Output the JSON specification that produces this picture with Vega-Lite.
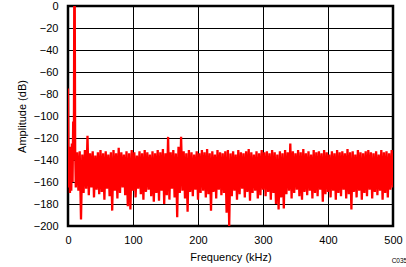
{
 "$schema": "https://vega.github.io/schema/vega-lite/v6.json",
 "width": 325, "height": 220,
 "autosize": "none",
 "padding": {"left": 68, "top": 6, "right": 13, "bottom": 41},
 "config": {
  "font": "Liberation Sans",
  "view": {"stroke": "black", "strokeWidth": 2.5},
  "axis": {"grid": true, "gridColor": "black", "gridOpacity": 1, "gridWidth": 1, "domain": false, "ticks": false, "labelFlush": false,
           "labelFontSize": 11, "labelColor": "black", "titleFontSize": 11, "titleFontWeight": "normal", "titleColor": "black", "labelFont": "Liberation Sans", "titleFont": "Liberation Sans"}
 },
 "title": {"text": "C035", "orient": "bottom", "anchor": "end", "fontSize": 6.5, "fontWeight": "normal", "color": "black", "offset": -4, "dx": 5},
 "data": {"values": [
  {"f":0,"a":-75},{"f":1,"a":-165},{"f":2,"a":-130},{"f":3,"a":-170},{"f":4,"a":-128},{"f":5,"a":-168},{"f":6,"a":-125},{"f":7,"a":-160},{"f":8,"a":-105},{"f":9,"a":-140},{"f":9.6,"a":0},{"f":10.4,"a":0},{"f":11,"a":-130},{"f":12,"a":-165},
  {"f":14,"a":-133},{"f":16,"a":-168},{"f":18,"a":-132},{"f":20,"a":-194},{"f":22,"a":-135},{"f":24,"a":-170},{"f":26,"a":-131},{"f":28,"a":-166},{"f":30,"a":-118},{"f":32,"a":-172},
  {"f":34,"a":-134},{"f":36,"a":-165},{"f":38,"a":-132},{"f":40,"a":-174},{"f":42,"a":-136},{"f":44,"a":-167},{"f":46,"a":-133},{"f":48,"a":-171},{"f":50,"a":-131},{"f":52,"a":-169},
  {"f":54,"a":-134},{"f":56,"a":-176},{"f":58,"a":-132},{"f":60,"a":-166},{"f":62,"a":-135},{"f":64,"a":-173},{"f":66,"a":-133},{"f":68,"a":-186},{"f":70,"a":-131},{"f":72,"a":-168},
  {"f":74,"a":-134},{"f":76,"a":-175},{"f":78,"a":-129},{"f":80,"a":-170},{"f":82,"a":-133},{"f":84,"a":-165},{"f":86,"a":-135},{"f":88,"a":-172},{"f":90,"a":-132},{"f":92,"a":-182},
  {"f":94,"a":-134},{"f":96,"a":-185},{"f":98,"a":-131},{"f":100,"a":-168},{"f":102,"a":-133},{"f":104,"a":-174},{"f":106,"a":-136},{"f":108,"a":-166},{"f":110,"a":-132},{"f":112,"a":-171},
  {"f":114,"a":-134},{"f":116,"a":-176},{"f":118,"a":-131},{"f":120,"a":-169},{"f":122,"a":-133},{"f":124,"a":-167},{"f":126,"a":-135},{"f":128,"a":-173},{"f":130,"a":-132},{"f":132,"a":-178},
  {"f":134,"a":-134},{"f":136,"a":-170},{"f":138,"a":-131},{"f":140,"a":-177},{"f":142,"a":-133},{"f":144,"a":-168},{"f":146,"a":-130},{"f":148,"a":-180},{"f":150,"a":-134},{"f":152,"a":-172},
  {"f":154,"a":-119},{"f":156,"a":-176},{"f":158,"a":-133},{"f":160,"a":-166},{"f":162,"a":-131},{"f":164,"a":-174},{"f":166,"a":-134},{"f":168,"a":-192},{"f":170,"a":-128},{"f":172,"a":-170},
  {"f":174,"a":-119},{"f":176,"a":-168},{"f":178,"a":-132},{"f":180,"a":-175},{"f":182,"a":-134},{"f":184,"a":-187},{"f":186,"a":-131},{"f":188,"a":-169},{"f":190,"a":-133},{"f":192,"a":-173},
  {"f":194,"a":-135},{"f":196,"a":-167},{"f":198,"a":-132},{"f":200,"a":-176},{"f":202,"a":-134},{"f":204,"a":-170},{"f":206,"a":-131},{"f":208,"a":-168},{"f":210,"a":-133},{"f":212,"a":-174},
  {"f":214,"a":-130},{"f":216,"a":-171},{"f":218,"a":-134},{"f":220,"a":-186},{"f":222,"a":-132},{"f":224,"a":-169},{"f":226,"a":-135},{"f":228,"a":-175},{"f":230,"a":-131},{"f":232,"a":-167},
  {"f":234,"a":-133},{"f":236,"a":-172},{"f":238,"a":-134},{"f":240,"a":-170},{"f":242,"a":-132},{"f":244,"a":-188},{"f":246,"a":-131},{"f":248,"a":-200},{"f":250,"a":-134},{"f":252,"a":-173},
  {"f":254,"a":-132},{"f":256,"a":-168},{"f":258,"a":-135},{"f":260,"a":-176},{"f":262,"a":-131},{"f":264,"a":-171},{"f":266,"a":-133},{"f":268,"a":-166},{"f":270,"a":-134},{"f":272,"a":-174},
  {"f":274,"a":-132},{"f":276,"a":-169},{"f":278,"a":-130},{"f":280,"a":-177},{"f":282,"a":-133},{"f":284,"a":-170},{"f":286,"a":-135},{"f":288,"a":-168},{"f":290,"a":-132},{"f":292,"a":-175},
  {"f":294,"a":-134},{"f":296,"a":-172},{"f":298,"a":-131},{"f":300,"a":-167},{"f":302,"a":-133},{"f":304,"a":-173},{"f":306,"a":-132},{"f":308,"a":-169},{"f":310,"a":-134},{"f":312,"a":-176},
  {"f":314,"a":-131},{"f":316,"a":-170},{"f":318,"a":-133},{"f":320,"a":-180},{"f":322,"a":-135},{"f":324,"a":-185},{"f":326,"a":-132},{"f":328,"a":-174},{"f":330,"a":-134},{"f":332,"a":-184},
  {"f":334,"a":-131},{"f":336,"a":-171},{"f":338,"a":-133},{"f":340,"a":-168},{"f":342,"a":-125},{"f":344,"a":-175},{"f":346,"a":-132},{"f":348,"a":-170},{"f":350,"a":-134},{"f":352,"a":-167},
  {"f":354,"a":-131},{"f":356,"a":-173},{"f":358,"a":-133},{"f":360,"a":-176},{"f":362,"a":-130},{"f":364,"a":-169},{"f":366,"a":-134},{"f":368,"a":-172},{"f":370,"a":-132},{"f":372,"a":-168},
  {"f":374,"a":-135},{"f":376,"a":-175},{"f":378,"a":-131},{"f":380,"a":-170},{"f":382,"a":-133},{"f":384,"a":-173},{"f":386,"a":-132},{"f":388,"a":-167},{"f":390,"a":-134},{"f":392,"a":-178},
  {"f":394,"a":-131},{"f":396,"a":-171},{"f":398,"a":-133},{"f":400,"a":-169},{"f":402,"a":-135},{"f":404,"a":-174},{"f":406,"a":-132},{"f":408,"a":-168},{"f":410,"a":-134},{"f":412,"a":-176},
  {"f":414,"a":-131},{"f":416,"a":-170},{"f":418,"a":-133},{"f":420,"a":-173},{"f":422,"a":-132},{"f":424,"a":-167},{"f":426,"a":-134},{"f":428,"a":-175},{"f":430,"a":-130},{"f":432,"a":-171},
  {"f":434,"a":-133},{"f":436,"a":-185},{"f":438,"a":-132},{"f":440,"a":-169},{"f":442,"a":-135},{"f":444,"a":-174},{"f":446,"a":-131},{"f":448,"a":-168},{"f":450,"a":-133},{"f":452,"a":-176},
  {"f":454,"a":-134},{"f":456,"a":-170},{"f":458,"a":-132},{"f":460,"a":-173},{"f":462,"a":-131},{"f":464,"a":-167},{"f":466,"a":-133},{"f":468,"a":-175},{"f":470,"a":-134},{"f":472,"a":-169},
  {"f":474,"a":-132},{"f":476,"a":-172},{"f":478,"a":-135},{"f":480,"a":-168},{"f":482,"a":-131},{"f":484,"a":-176},{"f":486,"a":-133},{"f":488,"a":-170},{"f":490,"a":-132},{"f":492,"a":-174},
  {"f":494,"a":-134},{"f":496,"a":-167},{"f":498,"a":-131},{"f":500,"a":-165}
 ]},
 "mark": {"type": "line", "color": "#ff0000", "strokeWidth": 2.3, "clip": true},
 "encoding": {
  "x": {"field": "f", "type": "quantitative", "scale": {"domain": [0, 500], "nice": false},
        "axis": {"title": "Frequency (kHz)", "values": [0, 100, 200, 300, 400, 500], "labelPadding": 8, "titlePadding": 6}},
  "y": {"field": "a", "type": "quantitative", "scale": {"domain": [-200, 0], "nice": false},
        "axis": {"title": "Amplitude (dB)", "values": [0, -20, -40, -60, -80, -100, -120, -140, -160, -180, -200], "labelPadding": 10, "titlePadding": 6}}
 }
}
